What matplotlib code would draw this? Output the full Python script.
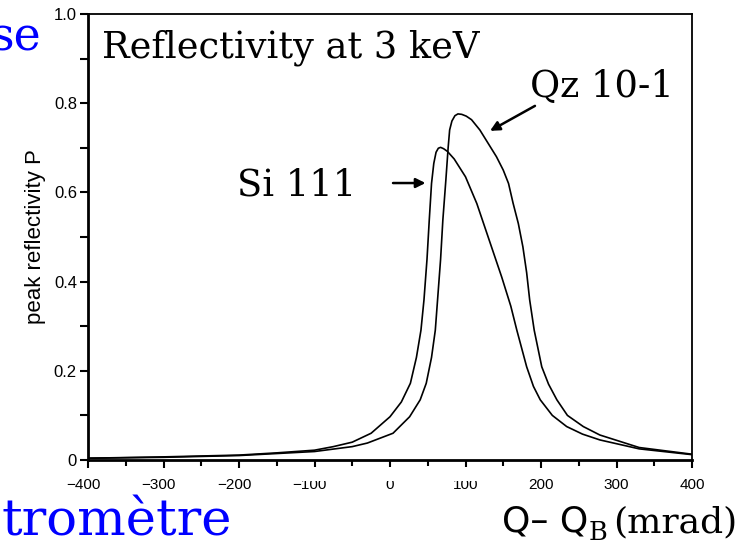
import matplotlib
matplotlib.use("Agg")
import matplotlib.pyplot as plt
from matplotlib.ticker import MultipleLocator, FixedLocator, FixedFormatter
from matplotlib.patches import Rectangle
import matplotlib.transforms as mtransforms

# ---- data ----
si_x = [-400, -300, -200, -150, -100, -75, -50, -25, 0, 15, 27, 35, 41, 45, 49, 52, 55, 58,
        61, 64, 67, 71, 76, 85, 100, 115, 132, 148, 160, 168, 181, 190, 199, 215, 234, 255,
        278, 330, 400]
si_y = [0.004, 0.007, 0.011, 0.016, 0.022, 0.030, 0.040, 0.060, 0.097, 0.13, 0.172, 0.23,
        0.291, 0.359, 0.45, 0.538, 0.62, 0.665, 0.69, 0.699, 0.701, 0.698, 0.692, 0.675,
        0.635, 0.575, 0.49, 0.41, 0.345, 0.291, 0.209, 0.165, 0.135, 0.10, 0.075, 0.058,
        0.045, 0.025, 0.012]

qz_x = [-400, -300, -200, -100, -50, -30, 4, 26, 40, 48, 55, 60, 63, 67, 70, 74, 77, 79,
        82, 86, 90, 95, 101, 108, 119, 130, 141, 150, 157, 163, 170, 176, 181, 185, 191,
        201, 210, 221, 235, 256, 278, 330, 400]
qz_y = [0.004, 0.006, 0.010, 0.019, 0.030, 0.038, 0.060, 0.097, 0.135, 0.172, 0.23, 0.291,
        0.359, 0.45, 0.538, 0.628, 0.70, 0.74, 0.76, 0.772, 0.776, 0.775, 0.771, 0.763,
        0.74, 0.71, 0.68, 0.65, 0.62, 0.576, 0.53, 0.478, 0.42, 0.359, 0.291, 0.209, 0.17,
        0.135, 0.10, 0.075, 0.056, 0.028, 0.013]

x_ticks = [-400, -300, -200, -100, 0, 100, 200, 300, 400]
x_tick_labels = ["\u2212400", "\u2212300", "\u2212200", "\u2212100", "0", "100", "200", "300", "400"]
y_ticks = [0, 0.2, 0.4, 0.6, 0.8, 1.0]
y_tick_labels = ["0", "0.2", "0.4", "0.6", "0.8", "1.0"]

W, H = 741, 548
fig = plt.figure(figsize=(W / 100, H / 100), dpi=100)
fig.patch.set_facecolor("white")

def fx(px):
    return px / W

def fy(py):
    return 1 - py / H

ax = fig.add_axes([fx(88), fy(460), fx(692) - fx(88), fy(14) - fy(460)])
ax.set_xlim(-400, 400)
ax.set_ylim(0, 1.0)

ax.plot(si_x, si_y, color="black", lw=1.2)
ax.plot(qz_x, qz_y, color="black", lw=1.2)

for side in ["left", "bottom"]:
    ax.spines[side].set_linewidth(2.0)
for side in ["top", "right"]:
    ax.spines[side].set_linewidth(1.3)

ax.xaxis.set_major_locator(FixedLocator(x_ticks))
ax.xaxis.set_major_formatter(FixedFormatter(x_tick_labels))
ax.yaxis.set_major_locator(FixedLocator(y_ticks))
ax.yaxis.set_major_formatter(FixedFormatter(y_tick_labels))
ax.xaxis.set_minor_locator(MultipleLocator(50))
ax.yaxis.set_minor_locator(MultipleLocator(0.1))

ax.tick_params(axis="both", which="both", direction="out", width=1.5, color="black")
ax.tick_params(axis="x", which="major", length=6, pad=7, labelsize=11)
ax.tick_params(axis="x", which="minor", length=4)
ax.tick_params(axis="y", which="major", length=6, pad=2, labelsize=12)
ax.tick_params(axis="y", which="minor", length=6)
for lab in ax.get_xticklabels() + ax.get_yticklabels():
    lab.set_fontfamily("Liberation Sans")

# shift negative x labels so digits sit centred under the tick
off = mtransforms.ScaledTranslation(-5 / 100, 0, fig.dpi_scale_trans)
for lab, txt in zip(ax.get_xticklabels(), x_tick_labels):
    if txt.startswith("\u2212"):
        lab.set_transform(lab.get_transform() + off)

# y-axis label
fig.text(fx(36), (fy(14) + fy(460)) / 2, "peak reflectivity P", rotation=90,
         fontfamily="Liberation Sans", fontsize=16, ha="center", va="center")

serif = "DejaVu Serif"
ax.text(fx(102), fy(57), "Reflectivity at 3 keV", transform=fig.transFigure,
        fontfamily=serif, fontsize=26.5, ha="left", va="baseline")
ax.text(fx(530), fy(97), "Qz 10-1", transform=fig.transFigure,
        fontfamily=serif, fontsize=26.5, ha="left", va="baseline")
ax.text(fx(237), fy(195), "Si 111", transform=fig.transFigure,
        fontfamily=serif, fontsize=26.5, ha="left", va="baseline")

ax.annotate("", xy=(47, 0.621), xytext=(4, 0.621),
            arrowprops=dict(arrowstyle="-|>", lw=1.8, color="black",
                            mutation_scale=14, shrinkA=0, shrinkB=0))
ax.annotate("", xy=(132.5, 0.738), xytext=(192, 0.794),
            arrowprops=dict(arrowstyle="-|>", lw=1.8, color="black",
                            mutation_scale=14, shrinkA=0, shrinkB=0))

# blue slide text fragments
fig.text(fx(41), fy(50), "se", color="#0000ff", fontfamily=serif, fontsize=33,
         ha="right", va="baseline")
fig.text(fx(232), fy(536), "tromètre", color="#0000ff", fontfamily=serif, fontsize=37,
         ha="right", va="baseline")

# x-axis label: "Q– Q" sans, subscript B and "(mrad)" serif
fig.canvas.draw()
renderer = fig.canvas.get_renderer()
x0 = 502
base = 532
t1 = fig.text(fx(x0), fy(base), "Q\u2013 Q", fontfamily="DejaVu Sans", fontsize=26,
              ha="left", va="baseline")
bb = t1.get_window_extent(renderer)
t2 = fig.text(bb.x1 / W + 0.0005, fy(base + 8), "B", fontfamily=serif, fontsize=18.5,
              ha="left", va="baseline")
bb2 = t2.get_window_extent(renderer)
fig.text(bb2.x1 / W + 0.007, fy(base), "(mrad)", fontfamily=serif, fontsize=26,
         ha="left", va="baseline")

# the reference has the tops of the central tick labels hidden
fig.add_artist(Rectangle((fx(283), fy(481)), fx(488) - fx(283), fy(467) - fy(481),
                         transform=fig.transFigure, facecolor="white",
                         edgecolor="none", zorder=10))

fig.savefig("out.png", dpi=100, facecolor="white")
